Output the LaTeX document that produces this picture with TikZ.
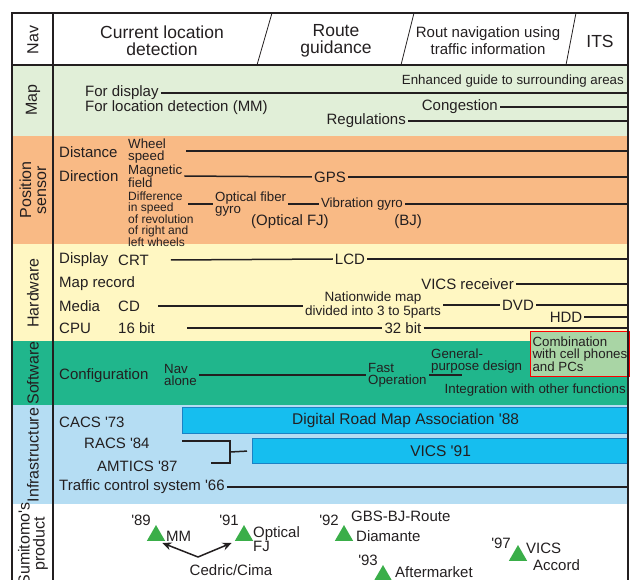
\documentclass[tikz,border=0pt]{standalone}
\usepackage{fontspec}
\setmainfont{Liberation Sans}
\usetikzlibrary{arrows.meta,shapes.geometric}

\definecolor{inkcol}{HTML}{231F20}
\definecolor{mapcol}{HTML}{E1EFD8}
\definecolor{poscol}{HTML}{F9BA85}
\definecolor{hwcol}{HTML}{FFF7C2}
\definecolor{swcol}{HTML}{20B68C}
\definecolor{infcol}{HTML}{B5DDF3}
\definecolor{boxblue}{HTML}{16BEEF}
\definecolor{boxedge}{HTML}{1B82C5}
\definecolor{combocol}{HTML}{A9D5A5}
\definecolor{tricol}{HTML}{3AAE49}

\newcommand{\yr}{\textquotesingle}

\begin{document}
\begin{tikzpicture}[x=1pt, y=-1pt,
    txt/.style={font=\fontsize{15}{17}\selectfont, inner sep=2pt, text=inkcol},
    sm/.style={font=\fontsize{13.3}{12}\selectfont, inner sep=2pt, align=left, text=inkcol},
    tight/.style={font=\fontsize{12}{10.5}\selectfont, inner sep=2pt, align=left, text=inkcol},
    hd/.style={font=\fontsize{17.5}{17}\selectfont, align=center, text=inkcol},
    lab/.style={font=\fontsize{16}{15}\selectfont, rotate=90, align=center, text=inkcol},
    link/.style={line width=1.5pt, draw=inkcol},
    arr/.style={line width=1.5pt, draw=inkcol, -{Stealth[length=9pt,width=8pt]}},
    dbox/.style={draw=boxedge, line width=1.2pt, fill=boxblue, text=inkcol,
        font=\fontsize{15.5}{17}\selectfont, inner sep=0pt, anchor=north west},
    tri/.style={regular polygon, regular polygon sides=3, fill=tricol,
        inner sep=0pt, minimum size=21pt, anchor=south}
]

    \clip (0,0) rectangle (635,580);
    \coordinate (rb) at (628,0); % right border

    % Row backgrounds
    \fill[mapcol] (12,65) rectangle (628,136);
    \fill[poscol] (12,136) rectangle (628,244);
    \fill[hwcol] (12,244) rectangle (628,341);
    \fill[swcol] (12,341) rectangle (628,405);
    \fill[infcol] (12,405) rectangle (628,504);

    % Header
    \node[lab] (lnav) at (33,40) {Nav};
    \node[hd] (cur) at (162,41) {Current location\\detection};
    \node[hd] (route) at (336,41) {Route\\guidance};
    \node[hd, font=\fontsize{15}{17}\selectfont] (rout) at (488,41) {Rout navigation using\\traffic information};
    \node[hd] (its) at (600,41) {ITS};
    \draw[inkcol, line width=0.8pt] (272,13) -- (257,65);
    \draw[inkcol, line width=0.8pt] (414,13) -- (401,65);
    \draw[inkcol, line width=0.8pt] (576,13) -- (566,65);

    % Map
    \node[lab] (lmap) at (33,100) {Map};
    \node[sm, anchor=east] (enh) at (626,81) {Enhanced guide to surrounding areas};
    \node[txt, anchor=west] (fdisp) at (83,93) {For display};
    \draw[link] (fdisp.east) -- (fdisp.east -| rb);
    \node[txt, anchor=west] (floc) at (83,108) {For location detection (MM)};
    \node[txt, anchor=east] (cong) at (500,107) {Congestion};
    \draw[link] (cong.east) -- (cong.east -| rb);
    \node[txt, anchor=east] (regu) at (408,121) {Regulations};
    \draw[link] (regu.east) -- (regu.east -| rb);

    % Position sensor
    \node[lab] (lpos) at (33,190) {Position\\sensor};
    \node[txt, anchor=west] (dist) at (57,152) {Distance};
    \node[sm, anchor=west] (wheel) at (126,151) {Wheel\\speed};
    \draw[link] ([xshift=18pt]wheel.east) -- (wheel.east -| rb);
    \node[txt, anchor=west] (dir) at (57,176) {Direction};
    \node[sm, anchor=west] (magn) at (126,176) {Magnetic\\field};
    \node[txt] (gps) at (330,177) {GPS};
    \draw[link] (magn.east) -- (gps.west);
    \draw[link] (gps.east) -- (gps.east -| rb);
    \node[tight, anchor=north west] (diff) at (126,190) {Difference\\in speed\\of revolution\\of right and\\left wheels};
    \coordinate (dd) at (188,204);
    \node[sm, anchor=west] (fiber) at (213,204) {Optical fiber\\gyro};
    \draw[link] (dd) -- (fiber.west);
    \node[sm] (vib) at (362,204) {Vibration gyro};
    \draw[link] (fiber.east) -- (vib.west);
    \draw[link] (vib.east) -- (vib.east -| rb);
    \node[txt] (ofj) at (290,222) {(Optical FJ)};
    \node[txt] (bj) at (408,222) {(BJ)};

    % Hardware
    \node[lab] (lhw) at (33,293) {Hardware};
    \node[txt, anchor=west] (disp) at (57,260) {Display};
    \node[txt, anchor=west] (crt) at (116,260) {CRT};
    \node[txt] (lcd) at (350,259) {LCD};
    \draw[link] ([xshift=20pt]crt.east) -- (lcd.west);
    \draw[link] (lcd.east) -- (lcd.east -| rb);
    \node[txt, anchor=west] (maprec) at (57,284) {Map record};
    \node[txt, anchor=east] (vicsr) at (516,284) {VICS receiver};
    \draw[link] (vicsr.east) -- (vicsr.east -| rb);
    \node[txt, anchor=west] (media) at (57,306) {Media};
    \node[txt, anchor=west] (cd) at (116,306) {CD};
    \node[sm, align=center, font=\fontsize{13.5}{11}\selectfont] (natw) at (373,305) {Nationwide map\\divided into 3 to 5parts};
    \draw[link] ([xshift=16pt]cd.east) -- (cd.east -| natw.west);
    \node[txt] (dvd) at (518,305) {DVD};
    \draw[link] (natw.east |- dvd.west) -- (dvd.west);
    \draw[link] (dvd.east) -- (dvd.east -| rb);
    \node[txt] (hdd) at (566,317) {HDD};
    \draw[link] (hdd.east) -- (hdd.east -| rb);
    \node[txt, anchor=west] (cpu) at (57,328) {CPU};
    \node[txt, anchor=west] (b16) at (116,328) {16 bit};
    \node[txt] (b32) at (403,328) {32 bit};
    \draw[link] ([xshift=30pt]b16.east) -- (b32.west);
    \draw[link] (b32.east) -- (b32.east -| rb);

    % Software
    \node[lab] (lsw) at (33,373) {Software};
    \node[sm, anchor=north west, draw=red, line width=1.2pt, fill=combocol,
        minimum width=98pt, minimum height=45pt] (combo) at (530,331) {Combination\\with cell phones\\and PCs};
    \node[txt, anchor=west] (conf) at (57,376) {Configuration};
    \node[sm, anchor=west] (navalone) at (162,375) {Nav\\alone};
    \node[sm, anchor=west] (fast) at (366,375) {Fast\\Operation};
    \draw[link] (navalone.east) -- (fast.west);
    \node[sm, anchor=west] (gen) at (429,361) {General-\\purpose design};
    \coordinate (genend) at (462,375);
    \draw[link] (fast.east) -- (genend);
    \node[sm, anchor=east] (integ) at (628,390) {Integration with other functions};

    % Infrastructure
    \node[lab] (linf) at (33,455) {Infrastructure};
    \node[txt, anchor=west] (cacs) at (57,422) {CACS \yr73};
    \node[dbox, minimum width=446pt, minimum height=26pt] (drm) at (182,407) {Digital Road Map Association \yr88};
    \node[txt, anchor=west] (racs) at (82,443) {RACS \yr84};
    \node[txt, anchor=west] (amtics) at (95,466) {AMTICS \yr87};
    \node[dbox, minimum width=376pt, minimum height=25pt] (vics) at (252,438) {VICS \yr91};
    \coordinate (ra) at (182,441);
    \coordinate (am) at (211,463);
    \coordinate (brk) at (230,452);
    \draw[link] (ra) -| (brk) |- (am);
    \draw[link] (brk) -- ([xshift=-5pt]vics.west);
    \node[txt, anchor=west] (tcs) at (57,487) {Traffic control system \yr66};
    \draw[link] (tcs.east) -- (tcs.east -| rb);

    % Sumitomo's product
    \node[lab] (lprod) at (33,544) {Sumitomo\yr s\\product};
    \node[tri] (t89) at (156,541) {};
    \node[txt, anchor=east] (y89) at (153,520) {\yr89};
    \node[txt, anchor=west] (mm) at (164,536) {MM};
    \node[tri] (t91) at (244,541) {};
    \node[txt, anchor=east] (y91) at (241,520) {\yr91};
    \node[txt, anchor=west, align=left, font=\fontsize{15}{13}\selectfont] (optfj) at (251,539) {Optical\\FJ};
    \node[tri] (t92) at (344,541) {};
    \node[txt, anchor=east] (y92) at (341,520) {\yr92};
    \node[txt, anchor=west] (gbs) at (349,516) {GBS-BJ-Route};
    \node[txt, anchor=west] (diam) at (354,536) {Diamante};
    \node[tri] (t93) at (383,581) {};
    \node[txt, anchor=east] (y93) at (380,560) {\yr93};
    \node[txt, anchor=west] (after) at (393,572) {Aftermarket};
    \node[tri] (t97) at (518,561) {};
    \node[txt, anchor=east] (y97) at (513,543) {\yr97};
    \node[txt, anchor=west] (vicsp) at (524,548) {VICS};
    \node[txt, anchor=west] (accord) at (531,565) {Accord};
    \node[txt] (cedric) at (231,570) {Cedric/Cima};
    \coordinate (cc) at (198,557);
    \draw[arr] (cc) -- ([xshift=-3pt,yshift=-2pt]t89.corner 3);
    \draw[arr] (cc) -- ([xshift=-3pt,yshift=-2pt]t91.corner 2);

    % Frame
    \draw[inkcol, line width=1.5pt] (12,13) rectangle (628,600);
    \draw[inkcol, line width=1.5pt] (53,13) -- (53,600);
    \draw[inkcol, line width=1.5pt] (12,65) -- (628,65);

\end{tikzpicture}
\end{document}
